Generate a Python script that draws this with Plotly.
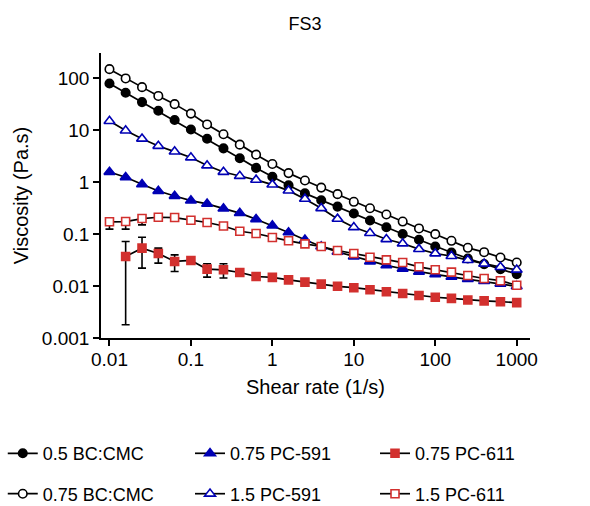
import plotly.graph_objects as go

# Shear rate (1/s)
shear_rate = [0.01, 0.0158, 0.0251, 0.0398, 0.0631, 0.1, 0.158, 0.251, 0.398, 0.631,
              1, 1.58, 2.51, 3.98, 6.31, 10, 15.8, 25.1, 39.8, 63.1,
              100, 158, 251, 398, 631, 1000]

# Viscosity (Pa.s)
bc_cmc_05 = [80, 53, 35, 23.9, 15.8, 10.4, 6.9, 4.5, 2.9, 1.89,
             1.28, 0.875, 0.61, 0.45, 0.34, 0.25, 0.183, 0.136, 0.101, 0.078,
             0.058, 0.0444, 0.034, 0.0265, 0.0212, 0.017]
bc_cmc_075 = [151, 100, 68, 46, 32, 21, 13, 8.4, 5.3, 3.4,
              2.25, 1.5, 1.08, 0.79, 0.59, 0.42, 0.316, 0.239, 0.175, 0.129,
              0.1, 0.0745, 0.0546, 0.045, 0.0356, 0.0285]
pc591_075 = [1.58, 1.25, 0.916, 0.68, 0.545, 0.444, 0.383, 0.312, 0.254, 0.194,
             0.146, 0.108, 0.078, 0.058, 0.0457, 0.0372, 0.0298, 0.0250, 0.0216, 0.0189,
             0.0168, 0.0151, 0.0136, 0.0125, 0.0111, 0.0099]
pc591_15 = [15.1, 9.9, 6.9, 5.0, 3.9, 3.0, 2.1, 1.58, 1.32, 1.11,
            0.90, 0.69, 0.478, 0.316, 0.197, 0.136, 0.105, 0.080, 0.066, 0.0515,
            0.0425, 0.0378, 0.0316, 0.0269, 0.0232, 0.0206]
pc611_075 = [None, 0.0372, 0.0538, 0.0425, 0.0298, 0.0312, 0.0212, 0.0206, 0.0183, 0.0153,
             0.0147, 0.0132, 0.0119, 0.0109, 0.0099, 0.0093, 0.0085, 0.0078, 0.0072, 0.0066,
             0.0061, 0.0058, 0.0054, 0.0052, 0.0050, 0.0048]
pc611_075_err_plus = [0, 0.0351, 0.0337, 0.0113, 0.0102, 0, 0.0057, 0.0063, 0, 0,
                      0, 0, 0, 0, 0, 0, 0, 0, 0, 0,
                      0, 0, 0, 0, 0, 0]
pc611_075_err_minus = [0, 0.0354, 0.0316, 0.0148, 0.0107, 0, 0.0063, 0.0063, 0, 0,
                       0, 0, 0, 0, 0, 0, 0, 0, 0, 0,
                       0, 0, 0, 0, 0, 0]
pc611_15 = [0.173, 0.175, 0.2, 0.212, 0.209, 0.186, 0.168, 0.144, 0.114, 0.103,
            0.0863, 0.0745, 0.065, 0.058, 0.0484, 0.0424, 0.036, 0.032, 0.0284, 0.0235,
            0.0206, 0.0186, 0.016, 0.014, 0.0127, 0.0104]
pc611_15_err_plus = [0.01, 0.01, 0.01] + [0] * 23
pc611_15_err_minus = [0.048, 0.05, 0.049] + [0] * 23

x_tickvals = [0.01, 0.1, 1, 10, 100, 1000]
x_ticktext = ["0.01", "0.1", "1", "10", "100", "1000"]
y_tickvals = [0.001, 0.01, 0.1, 1, 10, 100]
y_ticktext = ["0.001", "0.01", "0.1", "1", "10", "100"]

BLACK = "#000000"
BLUE = "#0000b4"
RED = "#d2302e"
FONT = "Liberation Sans, Arial, sans-serif"

fig = go.Figure()


def add(name, y, symbol, size, fill, edge, legend, group, err=None):
    kw = {}
    if err is not None:
        kw["error_y"] = dict(type="data", symmetric=False, array=err[0], arrayminus=err[1],
                             color=BLACK, thickness=1.6, width=4)
    fig.add_trace(go.Scatter(
        x=shear_rate, y=y, name=name, mode="lines+markers",
        line=dict(color=BLACK, width=1.7),
        marker=dict(symbol=symbol, size=size, color=fill, line=dict(color=edge, width=1.6)),
        legend=legend, legendgroup=group, connectgaps=True, **kw))


add("0.5 BC:CMC", bc_cmc_05, "circle", 8.5, BLACK, BLACK, "legend", "a")
add("0.75 BC:CMC", bc_cmc_075, "circle", 8.5, "white", BLACK, "legend", "b")
add("0.75 PC-591", pc591_075, "triangle-up", 9.5, BLUE, BLUE, "legend2", "c")
add("1.5 PC-591", pc591_15, "triangle-up", 9.5, "white", BLUE, "legend2", "d")
add("0.75 PC-611", pc611_075, "square", 8, RED, RED, "legend3", "e",
    err=(pc611_075_err_plus, pc611_075_err_minus))
add("1.5 PC-611", pc611_15, "square", 8, "white", RED, "legend3", "f",
    err=(pc611_15_err_plus, pc611_15_err_minus))

legend_common = dict(orientation="v", xanchor="left", yanchor="top", y=-0.3407,
                     font=dict(family=FONT, size=18, color=BLACK),
                     tracegroupgap=14, bgcolor="rgba(0,0,0,0)", traceorder="grouped")

fig.update_layout(
    width=590, height=506,
    margin=dict(l=101, r=60, t=53, b=168, autoexpand=False),
    paper_bgcolor="white", plot_bgcolor="white",
    font=dict(family=FONT, color=BLACK),
    title=dict(text="FS3", x=305 / 590, xanchor="center", xref="container",
               y=1 - 23.5 / 506, yanchor="middle", yref="container",
               font=dict(family=FONT, size=18, color=BLACK)),
    showlegend=True,
    legend=dict(x=-0.229, **legend_common),
    legend2=dict(x=0.2075, **legend_common),
    legend3=dict(x=0.6387, **legend_common),
    xaxis=dict(type="log", range=[-2.104, 3.163], showgrid=False, zeroline=False,
               showline=True, linecolor=BLACK, linewidth=1.6,
               ticks="outside", ticklen=6, tickwidth=1.6, tickcolor=BLACK,
               tickvals=x_tickvals, ticktext=x_ticktext, ticklabelstandoff=-3,
               tickfont=dict(family=FONT, size=19, color=BLACK),
               title=dict(text="Shear rate (1/s)", font=dict(family=FONT, size=20, color=BLACK),
                          standoff=11)),
    yaxis=dict(type="log", range=[-3, 2.49], showgrid=False, zeroline=False,
               showline=True, linecolor=BLACK, linewidth=1.6,
               ticks="outside", ticklen=6, tickwidth=1.6, tickcolor=BLACK,
               tickvals=y_tickvals, ticktext=y_ticktext,
               tickfont=dict(family=FONT, size=19, color=BLACK),
               title=dict(text="Viscosity (Pa.s)", font=dict(family=FONT, size=20, color=BLACK),
                          standoff=8)),
)

fig.write_html("out.html", config={"displayModeBar": False},
               post_script="document.body.style.margin='0';")
